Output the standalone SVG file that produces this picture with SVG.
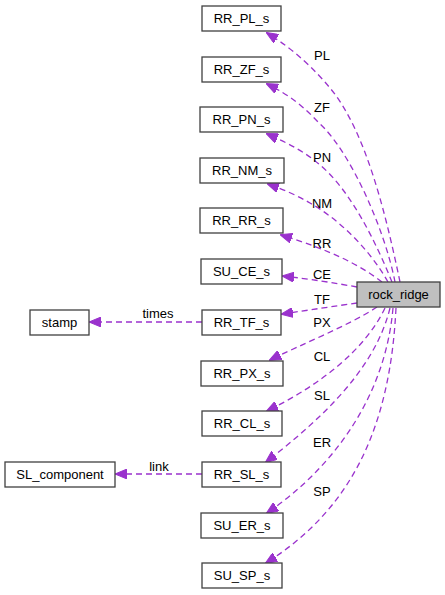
<svg xmlns="http://www.w3.org/2000/svg" width="445" height="595" viewBox="0 0 445 595">
<style>
.box{fill:#fff;stroke:#404040;stroke-width:1.3}
.main{fill:#bfbfbf;stroke:#404040;stroke-width:1.3}
text{font-family:"Liberation Sans",Arial,sans-serif;font-size:13px;fill:#000;text-anchor:middle}
.e{fill:none;stroke:#9a32cd;stroke-width:1.3;stroke-dasharray:6,4;marker-end:url(#ah)}
</style>
<defs>
<marker id="ah" viewBox="0 0 12 10" refX="11" refY="5" markerWidth="12" markerHeight="10" markerUnits="userSpaceOnUse" orient="auto">
<path d="M0,0 L12,5 L0,10 Z" fill="#9a32cd" stroke="#9a32cd"/>
</marker>
</defs>
<rect width="445" height="595" fill="#fff"/>
<g id="connectors">
<path class="e" d="M400,282 C385,210 365,130 330,88 C315,70 295,50 267,33"/>
<path class="e" d="M395,282 C385,230 350,150 318,122 C305,108 290,95 267,84"/>
<path class="e" d="M392,282 C375,240 350,190 320,165 C305,152 290,144 267,134"/>
<path class="e" d="M388,282 C370,250 340,220 310,203 C298,196 285,190 268,184"/>
<path class="e" d="M382,282 C360,265 330,250 281,235"/>
<path class="e" d="M357,287 C335,283 310,279 283,276"/>
<path class="e" d="M357,303 C335,306 310,310 282,314"/>
<path class="e" d="M202,322 L90,322"/>
<path class="e" d="M377,307 C350,325 300,345 270,360"/>
<path class="e" d="M385,308 C365,350 320,385 267,411"/>
<path class="e" d="M390,308 C375,370 320,420 266,462"/>
<path class="e" d="M202,474 L116,474"/>
<path class="e" d="M393,308 C385,400 330,470 267,513"/>
<path class="e" d="M396,308 C390,430 350,510 266,563"/>
</g>
<g id="labels">
<text x="322" y="60">PL</text>
<text x="322" y="112">ZF</text>
<text x="322" y="162">PN</text>
<text x="322" y="208">NM</text>
<text x="322" y="248">RR</text>
<text x="322" y="279">CE</text>
<text x="322" y="304">TF</text>
<text x="322" y="327">PX</text>
<text x="322" y="361">CL</text>
<text x="158" y="318">times</text>
<text x="322" y="400">SL</text>
<text x="322" y="447">ER</text>
<text x="159" y="471">link</text>
<text x="322" y="496">SP</text>
</g>
<g id="rock_ridge"><rect class="main" x="357" y="282" width="83" height="25"/><text x="398.5" y="299">rock_ridge</text></g>
<g id="RR_PL_s"><rect class="box" x="202" y="6" width="79" height="25"/><text x="241.5" y="23">RR_PL_s</text></g>
<g id="RR_ZF_s"><rect class="box" x="202" y="57" width="79" height="25"/><text x="241.5" y="74">RR_ZF_s</text></g>
<g id="RR_PN_s"><rect class="box" x="200" y="107" width="83" height="25"/><text x="241.5" y="124">RR_PN_s</text></g>
<g id="RR_NM_s"><rect class="box" x="200" y="158" width="84" height="25"/><text x="242" y="175">RR_NM_s</text></g>
<g id="RR_RR_s"><rect class="box" x="200" y="208" width="83" height="25"/><text x="241.5" y="225">RR_RR_s</text></g>
<g id="SU_CE_s"><rect class="box" x="201" y="259" width="81" height="25"/><text x="241.5" y="276">SU_CE_s</text></g>
<g id="stamp"><rect class="box" x="30" y="310" width="59" height="25"/><text x="59.5" y="327">stamp</text></g>
<g id="RR_TF_s"><rect class="box" x="202" y="310" width="79" height="25"/><text x="241.5" y="327">RR_TF_s</text></g>
<g id="RR_PX_s"><rect class="box" x="201" y="361" width="82" height="25"/><text x="242" y="378">RR_PX_s</text></g>
<g id="RR_CL_s"><rect class="box" x="202" y="411" width="80" height="25"/><text x="242" y="428">RR_CL_s</text></g>
<g id="SL_component"><rect class="box" x="5" y="462" width="110" height="25"/><text x="60" y="479">SL_component</text></g>
<g id="RR_SL_s"><rect class="box" x="202" y="462" width="79" height="25"/><text x="241.5" y="479">RR_SL_s</text></g>
<g id="SU_ER_s"><rect class="box" x="201" y="513" width="82" height="25"/><text x="242" y="530">SU_ER_s</text></g>
<g id="SU_SP_s"><rect class="box" x="202" y="563" width="80" height="25"/><text x="242" y="580">SU_SP_s</text></g>
</svg>
